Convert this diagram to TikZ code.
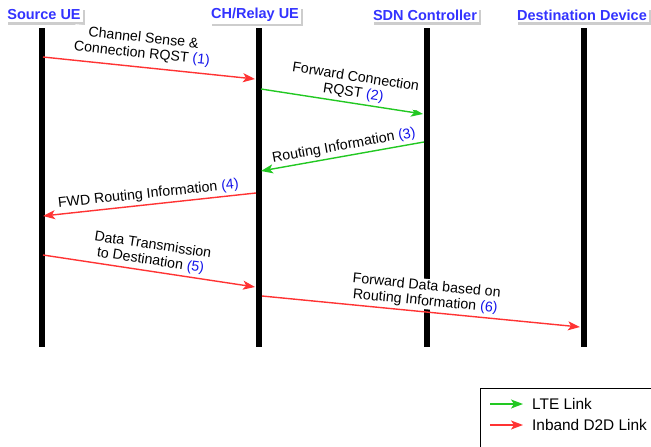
\documentclass[tikz,border=0pt]{standalone}
\usepackage{fontspec}
\setmainfont{Liberation Sans}
\usetikzlibrary{arrows.meta,shadows}

\definecolor{hdrblue}{RGB}{51,51,255}
\definecolor{numblue}{RGB}{20,20,235}
\definecolor{d2dred}{RGB}{255,51,51}
\definecolor{ltegreen}{RGB}{34,200,34}
\definecolor{shade}{RGB}{205,205,205}

\newcommand{\stepno}[1]{\textcolor{numblue}{(#1)}}

\begin{document}
\begin{tikzpicture}[x=1pt,y=-1pt,
  hdr/.style={font=\fontsize{14.5}{16}\selectfont\bfseries, text=hdrblue, fill=white,
    inner sep=2pt, drop shadow={shadow xshift=2.5pt, shadow yshift=-2.5pt, fill=shade, opacity=1}},
  life/.style={line width=4pt, black},
  lifeshadow/.style={line width=2pt, shade},
  msg/.style={line width=1.4pt, -{Stealth[length=12pt,width=9pt,inset=3pt]}},
  d2d/.style={msg, d2dred},
  lte/.style={msg, ltegreen},
  lbl/.style={font=\fontsize{14.2}{15.5}\selectfont, text=black, fill=white, sloped,
    above=2pt, align=center, inner sep=0.8pt},
  legtxt/.style={font=\fontsize{15.4}{17}\selectfont, anchor=west, inner sep=0pt}]

\useasboundingbox (0,0) rectangle (651,447);

% lifeline headers
\node[hdr] (hsrc)  at (44,15)  {Source UE};
\node[hdr] (hrel)  at (255,15) {CH/Relay UE};
\node[hdr] (hsdn)  at (425,15) {SDN Controller};
\node[hdr] (hdst)  at (582,15) {Destination Device};

% lifelines
\foreach \n/\x in {src/41, rel/258, sdn/426, dst/583}{
  \coordinate (\n top) at (\x,28);
  \coordinate (\n bot) at (\x,347);
  \draw[lifeshadow] ([xshift=3pt]\n top) -- ([xshift=3pt]\n bot);
  \draw[life] (\n top) -- (\n bot);
}

% message end points
\coordinate (m1a) at (43,57);   \coordinate (m1b) at (255,79);
\coordinate (m2a) at (261,89);  \coordinate (m2b) at (423,114);
\coordinate (m3a) at (424,142); \coordinate (m3b) at (261,171);
\coordinate (m4a) at (256,193); \coordinate (m4b) at (43,216);
\coordinate (m5a) at (43,255);  \coordinate (m5b) at (255,287);
\coordinate (m6a) at (262,296); \coordinate (m6b) at (580,327);

% messages
\draw[d2d] (m1a) -- node[lbl, pos=0.46, above=3pt] {Channel Sense \&\\Connection RQST \stepno{1}} (m1b);
\draw[lte] (m2a) -- node[lbl, pos=0.56] {Forward Connection\\RQST \stepno{2}} (m2b);
\draw[lte] (m3a) -- node[lbl, pos=0.48] {Routing Information \stepno{3}} (m3b);
\draw[d2d] (m4a) -- node[lbl] {FWD Routing Information \stepno{4}} (m4b);
\draw[d2d] (m5a) -- node[lbl] {Data Transmission\\to Destination \stepno{5}} (m5b);
\draw[d2d] (m6a) -- node[lbl, pos=0.51] {Forward Data based on\\Routing Information \stepno{6}} (m6b);

% legend
\draw[line width=0.8pt] (480.5,388) rectangle (660,460);
\coordinate (lg1a) at (490,404); \coordinate (lg1b) at (523,404);
\coordinate (lg2a) at (490,425); \coordinate (lg2b) at (523,425);
\draw[lte] (lg1a) -- (lg1b);
\draw[d2d] (lg2a) -- (lg2b);
\node[legtxt] (lte) at (532,404) {LTE Link};
\node[legtxt] (d2d) at (532,425) {Inband D2D Link};
\end{tikzpicture}
\end{document}
